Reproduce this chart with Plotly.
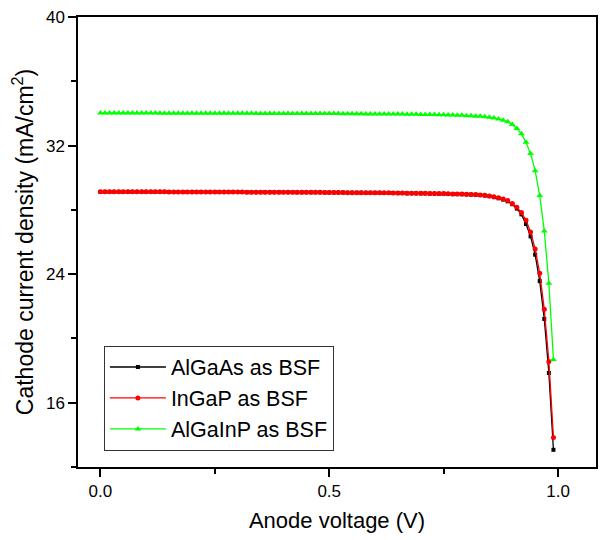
import plotly.graph_objects as go

# Anode voltage sweep (V), 0.00 .. 0.99 in 0.01 V steps
voltage = [round(i * 0.01, 2) for i in range(100)]

# Cathode current density (mA/cm^2) for each back-surface-field layer
algaas_j = [
    29.12, 29.12, 29.12, 29.12, 29.12, 29.12, 29.12, 29.12, 29.12, 29.12,
    29.12, 29.12, 29.12, 29.12, 29.12, 29.11, 29.11, 29.11, 29.11, 29.11,
    29.11, 29.11, 29.11, 29.11, 29.11, 29.11, 29.11, 29.11, 29.11, 29.11,
    29.11, 29.11, 29.10, 29.10, 29.10, 29.10, 29.10, 29.10, 29.10, 29.10,
    29.10, 29.10, 29.10, 29.09, 29.09, 29.09, 29.09, 29.09, 29.09, 29.08,
    29.08, 29.08, 29.08, 29.08, 29.07, 29.07, 29.07, 29.07, 29.06, 29.06,
    29.06, 29.06, 29.05, 29.05, 29.05, 29.04, 29.04, 29.03, 29.03, 29.03,
    29.02, 29.02, 29.01, 29.01, 29.00, 29.00, 28.99, 28.98, 28.98, 28.97,
    28.96, 28.95, 28.94, 28.92, 28.89, 28.85, 28.79, 28.72, 28.64, 28.53,
    28.35, 28.08, 27.72, 27.12, 26.35, 25.21, 23.57, 21.21, 17.85, 13.07,
]

ingap_j = [
    29.12, 29.12, 29.12, 29.12, 29.12, 29.12, 29.12, 29.12, 29.12, 29.12,
    29.12, 29.12, 29.12, 29.12, 29.12, 29.11, 29.11, 29.11, 29.11, 29.11,
    29.11, 29.11, 29.11, 29.11, 29.11, 29.11, 29.11, 29.11, 29.11, 29.11,
    29.11, 29.11, 29.10, 29.10, 29.10, 29.10, 29.10, 29.10, 29.10, 29.10,
    29.10, 29.10, 29.10, 29.09, 29.09, 29.09, 29.09, 29.09, 29.09, 29.08,
    29.08, 29.08, 29.08, 29.08, 29.07, 29.07, 29.07, 29.07, 29.07, 29.07,
    29.07, 29.06, 29.06, 29.06, 29.05, 29.05, 29.05, 29.04, 29.04, 29.03,
    29.03, 29.03, 29.02, 29.02, 29.01, 29.01, 29.00, 28.99, 28.99, 28.98,
    28.97, 28.96, 28.95, 28.93, 28.91, 28.87, 28.82, 28.75, 28.68, 28.58,
    28.39, 28.16, 27.83, 27.35, 26.63, 25.57, 24.05, 21.81, 18.57, 13.84,
]

algainp_j = [
    34.02, 34.02, 34.02, 34.02, 34.02, 34.02, 34.02, 34.02, 34.02, 34.02,
    34.02, 34.02, 34.02, 34.01, 34.01, 34.01, 34.01, 34.01, 34.01, 34.01,
    34.01, 34.01, 34.01, 34.01, 34.01, 34.01, 34.01, 34.01, 34.01, 34.01,
    34.01, 34.01, 34.01, 34.01, 34.00, 34.00, 34.00, 34.00, 34.00, 34.00,
    34.00, 34.00, 34.00, 34.00, 34.00, 33.99, 33.99, 33.99, 33.99, 33.99,
    33.99, 33.99, 33.99, 33.98, 33.98, 33.98, 33.98, 33.98, 33.97, 33.97,
    33.97, 33.97, 33.97, 33.96, 33.96, 33.96, 33.96, 33.95, 33.95, 33.95,
    33.94, 33.94, 33.93, 33.93, 33.92, 33.92, 33.91, 33.90, 33.89, 33.88,
    33.86, 33.85, 33.83, 33.82, 33.80, 33.76, 33.72, 33.66, 33.58, 33.48,
    33.31, 33.06, 32.73, 32.21, 31.50, 30.44, 28.89, 26.69, 23.43, 18.69,
]

series = [
    ("AlGaAs as BSF", algaas_j, "#000000", "square", 4),
    ("InGaP as BSF", ingap_j, "#FF0000", "circle", 5),
    ("AlGaInP as BSF", algainp_j, "#00FF00", "triangle-up", 6),
]

FONT = "Arial, Liberation Sans, sans-serif"

fig = go.Figure()
for name, values, color, symbol, size in series:
    fig.add_trace(go.Scatter(
        x=voltage, y=values, name=name, mode="lines+markers",
        line=dict(color=color, width=1.3),
        marker=dict(symbol=symbol, size=size, color=color, line=dict(width=0)),
    ))

axis_common = dict(
    showline=True, linecolor="#000000", linewidth=1.5, mirror=True,
    ticks="outside", ticklen=8, tickwidth=1.5, tickcolor="#000000",
    showgrid=False, zeroline=False,
    tickfont=dict(family=FONT, size=17, color="#000000"),
)

fig.update_xaxes(
    range=[-0.049, 1.083], tick0=0, dtick=0.5, tickformat=".1f",
    minor=dict(dtick=0.25, ticks="outside", ticklen=5, tickwidth=1.5, tickcolor="#000000"),
    title=dict(text="Anode voltage (V)", font=dict(family=FONT, size=22, color="#000000"), standoff=12),
    **axis_common,
)
fig.update_yaxes(
    range=[12, 40], tick0=0, dtick=8,
    minor=dict(dtick=4, ticks="outside", ticklen=5, tickwidth=1.5, tickcolor="#000000"),
    title=dict(text="Cathode current density (mA/cm<sup>2</sup>)",
               font=dict(family=FONT, size=23, color="#000000"), standoff=6),
    **axis_common,
)

fig.update_layout(
    width=606, height=540,
    margin=dict(l=78, r=8, t=17, b=73),
    paper_bgcolor="#FFFFFF", plot_bgcolor="#FFFFFF",
    font=dict(family=FONT, color="#000000"),
    showlegend=True,
    legend=dict(
        x=0.05, y=0.27, xanchor="left", yanchor="top",
        bgcolor="#FFFFFF", bordercolor="#333333", borderwidth=1,
        font=dict(family=FONT, size=21.5, color="#000000"),
        itemwidth=56, tracegroupgap=0,
    ),
)

fig.write_html("out.html")
